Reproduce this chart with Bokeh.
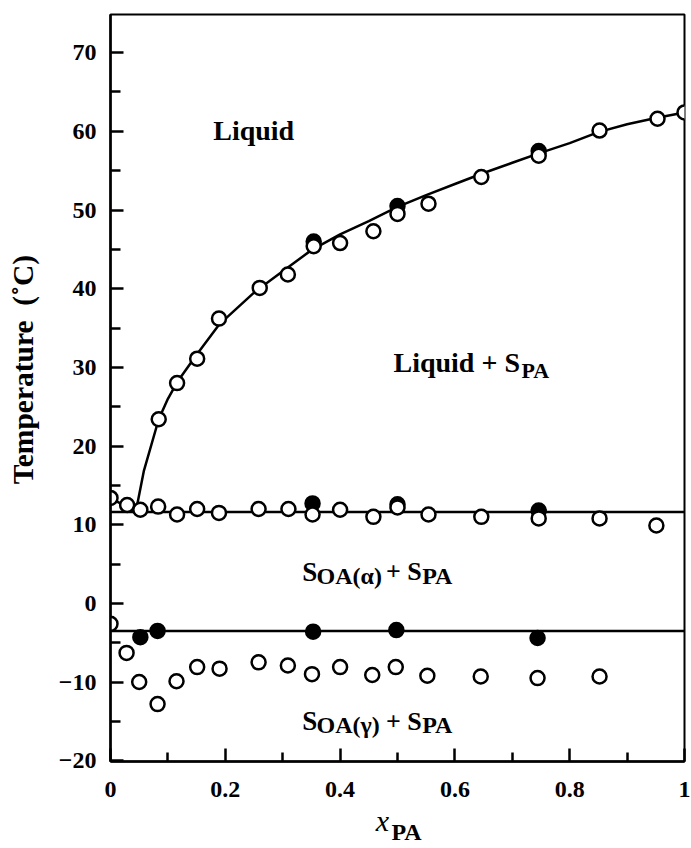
from bokeh.plotting import figure
from bokeh.models import FixedTicker, Label, Range1d, LinearAxis
from bokeh.embed import file_html
from bokeh.resources import INLINE

# ---------------- data ----------------
# PA liquidus (open circles)
liq_x = [0.084, 0.116, 0.151, 0.189, 0.26, 0.309, 0.354, 0.40, 0.458, 0.50, 0.554, 0.646, 0.746, 0.852, 0.953, 1.0]
liq_T = [23.4, 28.0, 31.1, 36.2, 40.1, 41.8, 45.4, 45.8, 47.3, 49.5, 50.8, 54.2, 56.9, 60.1, 61.6, 62.4]
# PA liquidus (filled circles)
liq_fx = [0.354, 0.50, 0.746]
liq_fT = [46.0, 50.5, 57.5]

# eutectic (open circles)
eut_x = [0.0, 0.029, 0.052, 0.083, 0.116, 0.151, 0.189, 0.258, 0.31, 0.352, 0.40, 0.458, 0.50, 0.554, 0.646, 0.746, 0.852, 0.951]
eut_T = [13.4, 12.5, 11.9, 12.3, 11.3, 12.0, 11.5, 12.0, 12.0, 11.3, 11.9, 11.0, 12.2, 11.3, 11.0, 10.8, 10.8, 9.9]
# eutectic (filled circles)
eut_fx = [0.352, 0.50, 0.746]
eut_fT = [12.7, 12.6, 11.8]

# low temperature transition (open circles)
low_x = [0.0, 0.028, 0.05, 0.082, 0.115, 0.151, 0.19, 0.258, 0.309, 0.351, 0.40, 0.456, 0.497, 0.552, 0.645, 0.744, 0.852]
low_T = [-2.6, -6.3, -10.0, -12.8, -9.9, -8.1, -8.3, -7.5, -7.9, -9.0, -8.1, -9.1, -8.1, -9.2, -9.3, -9.5, -9.3]
# low temperature transition (filled circles)
low_fx = [0.052, 0.082, 0.353, 0.498, 0.744]
low_fT = [-4.3, -3.5, -3.6, -3.4, -4.4]

# fitted lines
oa_liq_x = [0.0, 0.044]
oa_liq_T = [13.4, 11.6]
pa_liq_x = [0.044, 0.058, 0.084, 0.10, 0.116, 0.15, 0.19, 0.25, 0.30, 0.35, 0.40, 0.45, 0.50,
            0.55, 0.60, 0.65, 0.70, 0.75, 0.80, 0.85, 0.90, 0.95, 1.0]
pa_liq_T = [11.6, 16.8, 23.4, 26.0, 28.1, 31.6, 35.5, 39.5, 42.2, 44.9, 46.9, 48.6, 50.4,
            51.9, 53.3, 54.7, 56.0, 57.3, 58.5, 59.9, 60.9, 61.7, 62.4]
eutectic_x = [0.0, 1.0]
eutectic_T = [11.6, 11.6]
transition_x = [0.0, 1.0]
transition_T = [-3.5, -3.5]

x_ticks = [0, 0.2, 0.4, 0.6, 0.8, 1]
x_tick_labels = ["0", "0.2", "0.4", "0.6", "0.8", "1"]
x_minor = [0.1, 0.3, 0.5, 0.7, 0.9]
y_ticks = [-20, -10, 0, 10, 20, 30, 40, 50, 60, 70]
y_minor = [-15, -5, 5, 15, 25, 35, 45, 55, 65]

FONT = "Liberation Serif"
NB = "\u00a0"

p = figure(width=691, height=848, x_range=Range1d(0, 1), y_range=Range1d(-20.1, 74.85),
           output_backend="svg", toolbar_location=None,
           min_border_left=110, min_border_right=7, min_border_top=14, min_border_bottom=87)
p.xgrid.visible = False
p.ygrid.visible = False
p.background_fill_color = "white"
p.border_fill_color = "white"
p.outline_line_color = "black"
p.outline_line_width = 2
p.outline_line_alpha = 1.0

p.xaxis.ticker = FixedTicker(ticks=x_ticks, minor_ticks=x_minor)
p.xaxis.major_label_overrides = {t: l for t, l in zip(x_ticks, x_tick_labels)}
p.yaxis.ticker = FixedTicker(ticks=y_ticks, minor_ticks=y_minor)

for ax, mi in ((p.xaxis[0], 9), (p.yaxis[0], 10)):
    ax.axis_line_width = 2.5
    ax.axis_line_color = "black"
    ax.major_tick_out = 0
    ax.major_tick_in = 13
    ax.minor_tick_out = 0
    ax.minor_tick_in = mi
    ax.major_tick_line_width = 2.5
    ax.minor_tick_line_width = 2.5
    ax.major_tick_line_color = "black"
    ax.minor_tick_line_color = "black"
    ax.major_label_text_font = FONT
    ax.major_label_text_font_style = "bold"
    ax.major_label_text_font_size = "24px"
    ax.major_label_text_color = "black"
    ax.axis_label_text_font = FONT
    ax.axis_label_text_color = "black"
p.xaxis.major_label_standoff = 20
p.yaxis.major_label_standoff = 14

# y axis title (leading no-break spaces shift it up like the reference)
p.yaxis.axis_label = NB * 5 + "Temperature" + NB + NB + "(\u02daC)"
p.yaxis.axis_label_text_font_style = "bold"
p.yaxis.axis_label_text_font_size = "29.5px"
p.yaxis.axis_label_standoff = 17

# x axis title: italic x on the main axis, subscript PA on a bare second axis
p.xaxis.axis_label = "x" + NB * 4
p.xaxis.axis_label_text_font_style = "italic"
p.xaxis.axis_label_text_font_size = "30px"
p.xaxis.axis_label_standoff = 4

sub_ax = LinearAxis(ticker=FixedTicker(ticks=[]), axis_line_color=None,
                    major_tick_line_color=None, minor_tick_line_color=None,
                    major_label_text_font_size="0px",
                    axis_label=NB * 3 + "PA", axis_label_text_font=FONT,
                    axis_label_text_font_style="bold", axis_label_text_font_size="24px",
                    axis_label_text_color="black", axis_label_standoff=-21)
p.add_layout(sub_ax, "below")

# lines
lw = 2.5
p.line(oa_liq_x, oa_liq_T, line_color="black", line_width=lw)
p.line(pa_liq_x, pa_liq_T, line_color="black", line_width=lw)
p.line(eutectic_x, eutectic_T, line_color="black", line_width=lw)
p.line(transition_x, transition_T, line_color="black", line_width=lw)

# markers: filled behind, open on top
S = 14
for fx, fT in ((liq_fx, liq_fT), (eut_fx, eut_fT), (low_fx, low_fT)):
    p.scatter(fx, fT, size=S, marker="circle", fill_color="black", line_color="black", line_width=2.5)
for ox, oT in ((liq_x, liq_T), (eut_x, eut_T), (low_x, low_T)):
    p.scatter(ox, oT, size=S, marker="circle", fill_color="white", line_color="black", line_width=2.5)


def lab(x, y, text, size, style="bold"):
    p.add_layout(Label(x=x, y=y, text=text, text_font=FONT, text_font_style=style,
                       text_font_size=size, text_color="black", text_baseline="alphabetic",
                       text_align="left"))


# region labels
lab(0.179, 60.1, "Liquid", "28px")
lab(0.493, 30.6, "Liquid + S", "28px")
lab(0.716, 29.6, "PA", "22px")

lab(0.334, 4.0, "S", "27px")
lab(0.359, 3.5, "OA(\u03b1)", "24px")
lab(0.480, 4.0, "+ S", "26px")
lab(0.543, 3.5, "PA", "24px")

lab(0.334, -15.0, "S", "27px")
lab(0.359, -15.5, "OA(\u03b3)", "24px")
lab(0.480, -15.0, "+ S", "26px")
lab(0.543, -15.5, "PA", "24px")

open("out.html", "w").write(file_html(p, INLINE))
